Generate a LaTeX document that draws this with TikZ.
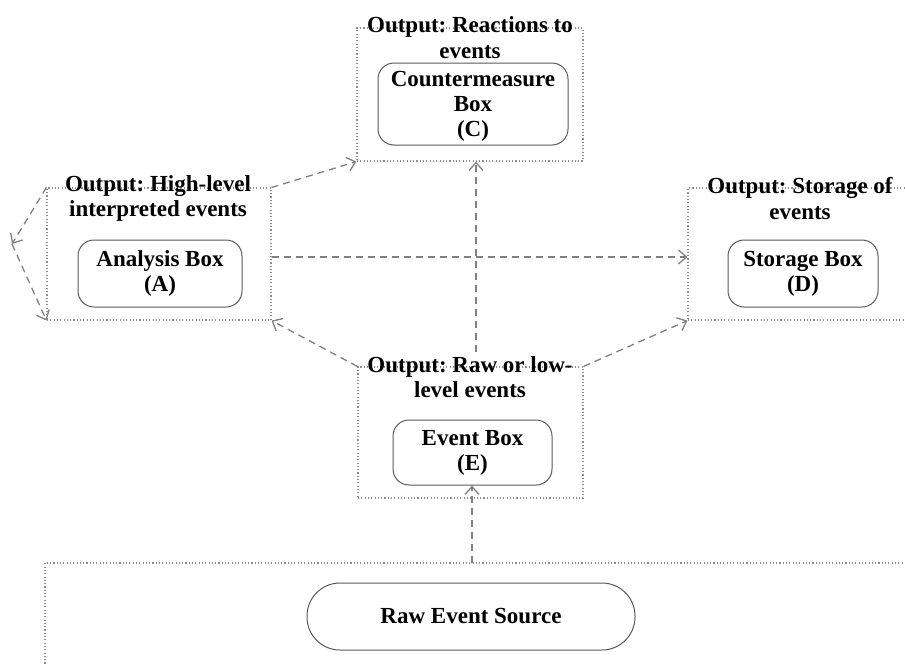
\documentclass[tikz,border=0pt]{standalone}
\usepackage{fontspec}
\setmainfont{Liberation Serif}
\usetikzlibrary{arrows.meta,calc}
\frenchspacing
\begin{document}
\begin{tikzpicture}[x=1pt,y=-1pt,
  region/.style={draw=black!45, line width=1.1pt, dash pattern=on 1.1pt off 2.2pt, inner sep=0pt},
  rbox/.style={draw=black!65, line width=1pt, rounded corners=16pt, inner sep=0pt, align=center,
    font=\fontsize{23}{25}\selectfont\bfseries},
  lab/.style={inner sep=0pt, align=center, font=\fontsize{23}{25.5}\selectfont\bfseries},
  conn/.style={draw=black!50, line width=1.3pt, dash pattern=on 7pt off 5pt,
    -{Straight Barb[length=8pt,width=14pt,line width=1.3pt]}}]
\useasboundingbox (0,0) rectangle (905,664);
% regions
\node[region, minimum width=224pt, minimum height=132pt] (Areg) at (159,254) {};
\node[region, minimum width=226pt, minimum height=133pt] (Creg) at (470,94.5) {};
\node[region, minimum width=242pt, minimum height=132pt] (Dreg) at (809,254) {};
\node[region, minimum width=225pt, minimum height=131pt] (Ereg) at (470.5,432.5) {};
\node[region, minimum width=885pt, minimum height=137pt] (Rreg) at (487.5,631.5) {};
% labels
\node[lab] (Clab) at (470,37.5) {Output: Reactions to\\events};
\node[lab] (Alab) at (158,198.5) {Output: High-level\\interpreted events};
\node[lab] (Dlab) at (800,198.5) {Output: Storage of\\events};
\node[lab] (Elab) at (470,377) {Output: Raw or low-\\level events};
% boxes
\node[rbox, minimum width=190pt, minimum height=82pt, text depth=-4pt] (C) at (473,104) {Countermeasure\\Box\\(C)};
\node[rbox, minimum width=164pt, minimum height=67pt] (A) at (160,273.5) {Analysis Box\\(A)};
\node[rbox, minimum width=150pt, minimum height=67pt] (D) at (803,273.5) {Storage Box\\(D)};
\node[rbox, minimum width=159pt, minimum height=65pt] (E) at (472.5,452.5) {Event Box\\(E)};
\node[rbox, rounded corners=33pt, minimum width=328pt, minimum height=67pt] (R) at (471,616.5) {Raw Event Source};
% connectors
\coordinate (rtop) at (472,563);
\coordinate (vs) at (476,352);
\coordinate (loop) at (12,244);
\draw[conn] (rtop) -- (E.south -| rtop);
\draw[conn] (Ereg.north west) -- (Areg.south east);
\draw[conn] (Ereg.north east) -- (Dreg.south west);
\draw[conn] (vs) -- (vs |- Creg.south);
\draw[conn] ([yshift=-3pt]Areg.east) -- ([yshift=-3pt]Areg.east -| Dreg.west);
\draw[conn] (Areg.north east) -- (Creg.south west);
\draw[conn] (Areg.north west) -- (loop);
\draw[conn] (loop) -- (Areg.south west);
\end{tikzpicture}
\end{document}
